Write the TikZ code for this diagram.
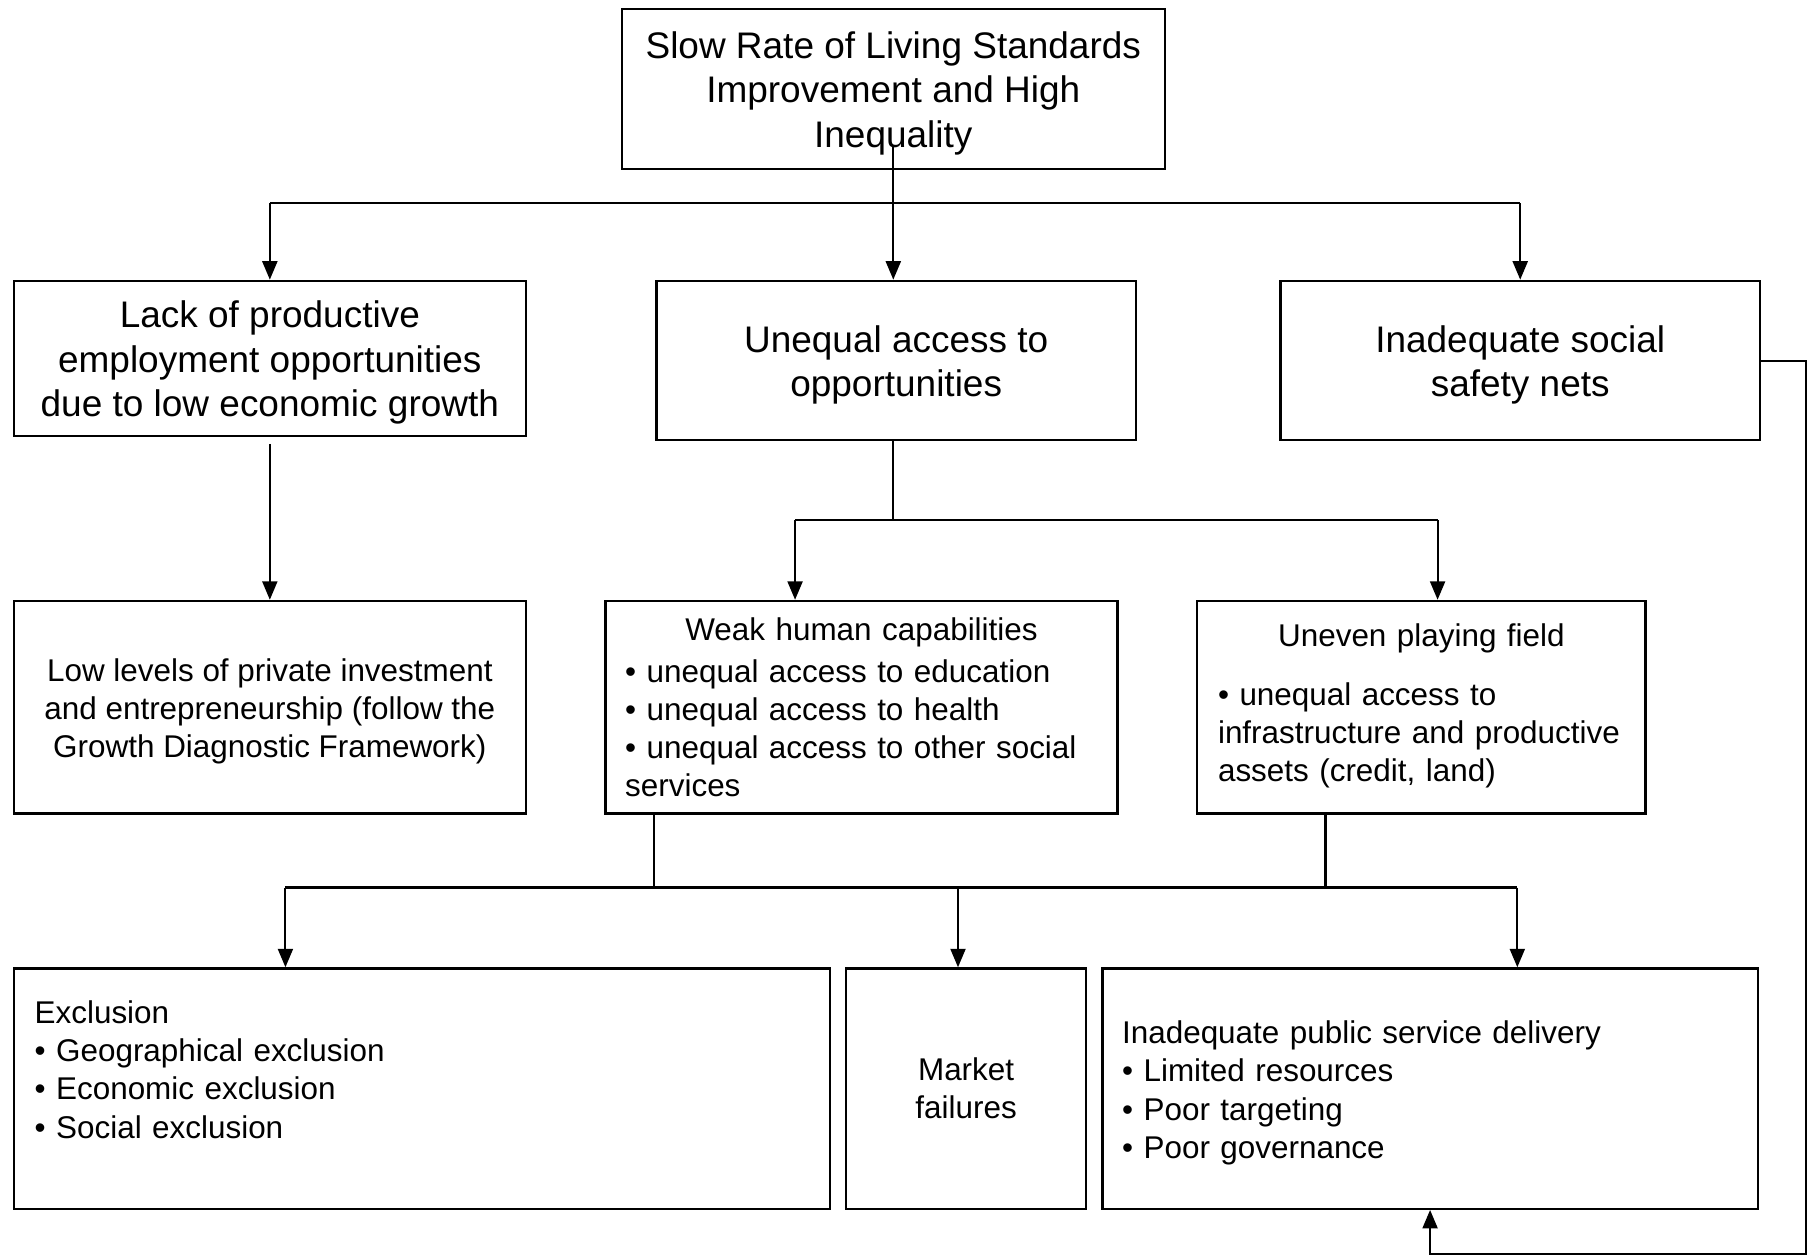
\documentclass[tikz,border=0pt]{standalone}
\usepackage{fontspec}
\setmainfont{Liberation Sans}
\usetikzlibrary{arrows.meta}
\newcommand{\bigstrut}{\rule{0pt}{15.3pt}}
\newcommand{\smallstrut}{\rule{0pt}{13.5pt}}
\begin{document}
\begin{tikzpicture}[x=0.5pt,y=-0.5pt,
  box/.style={draw=black, line width=1pt, rectangle, inner sep=0pt},
  big/.style={font=\fontsize{16}{19.25}\selectfont, align=center},
  small/.style={font=\fontsize{13.6}{16.5}\selectfont},
  conn/.style={line width=0.9pt, draw=black},
  arr/.style={conn, -{Triangle[width=6.5pt,length=8pt]}}
]
\useasboundingbox (0,0) rectangle (1568,1088);

% boxes
\node[box, big, minimum width=235pt, minimum height=69pt] (top) at (773,77)
  {\bigstrut Slow Rate of Living Standards\\Improvement and High\\Inequality};
\node[box, big, minimum width=221.5pt, minimum height=67pt] (r2l) at (233.5,310)
  {\bigstrut Lack of productive\\employment opportunities\\due to low economic growth};
\node[box, big, minimum width=207.5pt, minimum height=69pt] (r2m) at (775.5,312)
  {\bigstrut Unequal access to\\opportunities};
\node[box, big, minimum width=207.5pt, minimum height=69pt] (r2r) at (1315.5,312)
  {\bigstrut Inadequate social\\safety nets};

\node[box, small, align=center, minimum width=221.5pt, minimum height=92pt] (r3l) at (233.5,612)
  {\smallstrut Low levels of private investment\\and entrepreneurship (follow the\\Growth Diagnostic Framework)};
\node[box, small, align=left, text width=204.5pt, inner xsep=8.5pt, minimum height=92pt] (r3m) at (745.5,612)
  {\makebox[\linewidth]{Weak human capabilities}\\[1.5pt]• unequal access to education\\• unequal access to health\\• unequal access to other social\\services};
\node[box, small, align=left, text width=176pt, inner xsep=9pt, minimum height=92pt] (r3r) at (1230,612)
  {\makebox[\linewidth]{Uneven playing field}\\[9pt]• unequal access to\\\mbox{infrastructure and productive}\\assets (credit, land)\\[-12.5pt]\mbox{}};

\node[box, small, align=left, text width=335pt, inner xsep=9pt, minimum height=104pt] (r4l) at (365,942)
  {Exclusion\\• Geographical exclusion\\• Economic exclusion\\• Social exclusion\\\mbox{}};
\node[box, small, align=center, minimum width=104pt, minimum height=104pt] (r4m) at (836,942)
  {Market\\failures};
\node[box, small, align=left, text width=266.5pt, inner xsep=8.5pt, minimum height=104pt] (r4r) at (1237.5,942)
  {\smallstrut Inadequate public service delivery\\• Limited resources\\• Poor targeting\\• Poor governance};

% level 1 connectors
\coordinate (bus1) at (773,176);
\draw[conn] (r2l.north |- bus1) -- (r2r.north |- bus1);
\draw[arr] ([yshift=10pt]top.south) -- (top.south |- r2m.north);
\draw[arr] (r2l.north |- bus1) -- (r2l.north);
\draw[arr] (r2r.north |- bus1) -- (r2r.north);

% left column
\draw[arr] ([yshift=-3pt]r2l.south) -- (r3l.north);

% middle column split
\coordinate (bus2) at (773,450);
\coordinate (b2l) at (688,450);
\coordinate (b2r) at (1244,450);
\draw[conn] (bus2 |- r2m.south) -- (bus2);
\draw[conn] (b2l) -- (b2r);
\draw[arr] (b2l) -- (b2l |- r3m.north);
\draw[arr] (b2r) -- (b2r |- r3r.north);

% lower bus
\coordinate (b3a) at (566,768);
\coordinate (b3b) at (1147,768);
\coordinate (b3l) at (247,768);
\coordinate (b3m) at (829,768);
\coordinate (b3r) at (1313,768);
\draw[conn] (b3a |- r3m.south) -- (b3a);
\draw[conn] (b3b |- r3r.south) -- (b3b);
\draw[conn] (b3l) -- (b3r);
\draw[arr] (b3l) -- (b3l |- r4l.north);
\draw[arr] (b3m) -- (b3m |- r4m.north);
\draw[arr] (b3r) -- (b3r |- r4r.north);

% feedback loop
\coordinate (fb) at (1563,1085);
\draw[arr] (r2r.east) -| (fb) -| (r4r.south);
\end{tikzpicture}
\end{document}
